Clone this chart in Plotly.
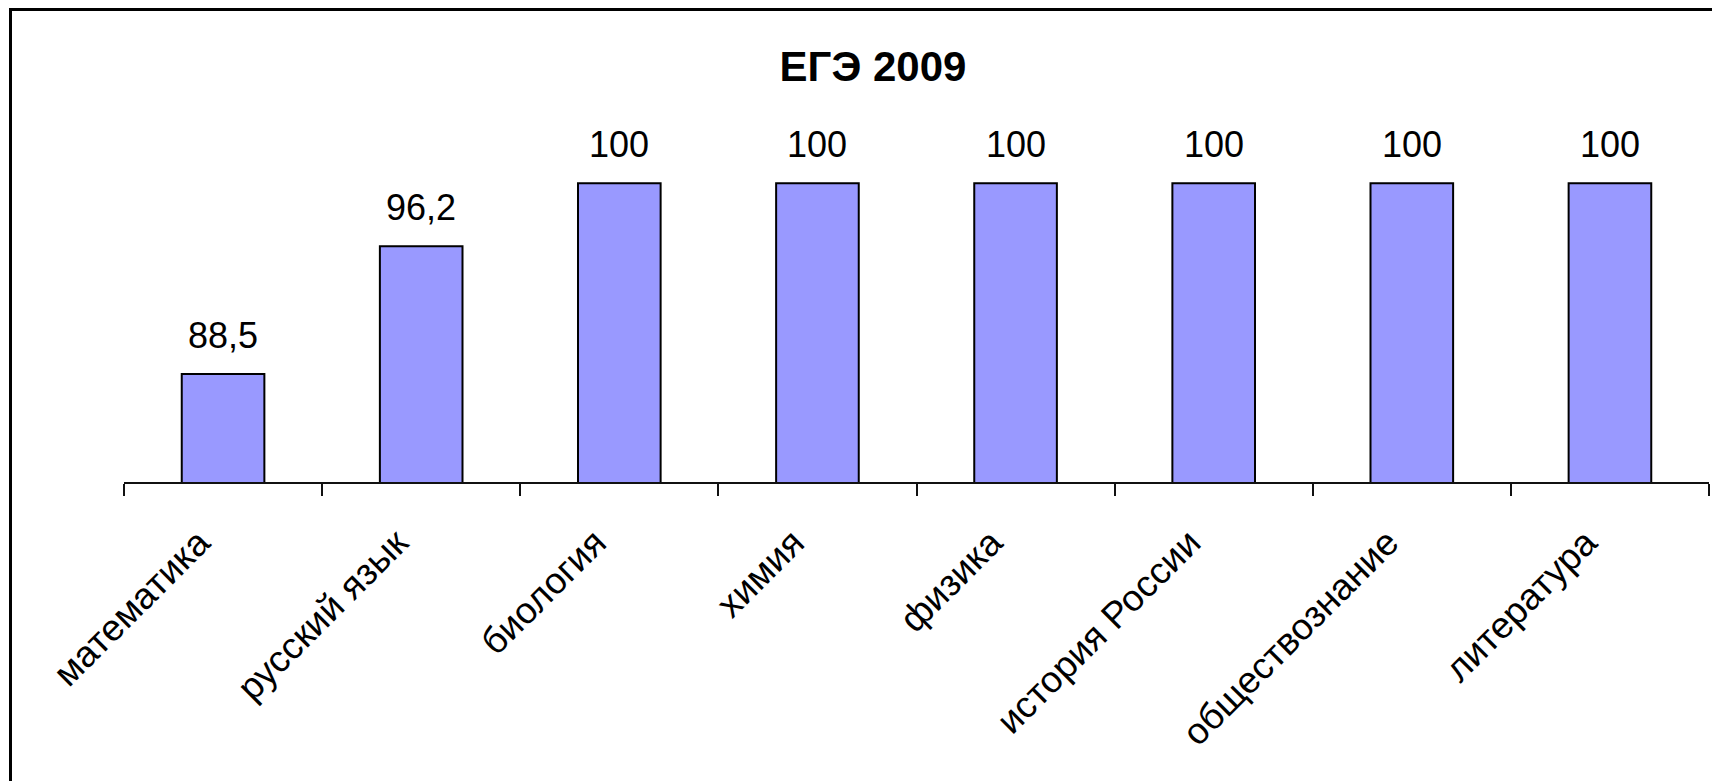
import plotly.graph_objects as go

categories = ["математика", "русский язык", "биология", "химия", "физика",
              "история России", "обществознание", "литература"]
scores = [88.5, 96.2, 100, 100, 100, 100, 100, 100]
title_text = "ЕГЭ 2009"

FONT = "Arial, 'Liberation Sans', sans-serif"
# the page places the figure 8px in from the top-left corner
W, H = 1712, 773
L, R, T, B = 116, 11, 142, 299
Y_MIN, Y_MAX = 82, 102

def fmt(v):
    s = f"{v:g}"
    return s.replace(".", ",")

fig = go.Figure()
fig.add_trace(go.Bar(
    x=categories, y=scores,
    marker=dict(color="#9999FF", line=dict(color="#000000", width=2)),
    hoverinfo="skip",
))

for c, v in zip(categories, scores):
    fig.add_annotation(x=c, y=v, xref="x", yref="y", text=fmt(v),
                       showarrow=False, yanchor="bottom", yshift=16,
                       font=dict(family=FONT, size=36, color="#000000"))

def px_x(px):
    return (px - L) / (W - L - R)

def px_y(py):
    return (H - B - py) / (H - T - B)

# chart frame (left and top edges visible)
fig.add_shape(type="line", xref="paper", yref="paper",
              x0=px_x(2.5), x1=px_x(2.5), y0=px_y(1), y1=px_y(H + 10),
              line=dict(color="#000000", width=3))
fig.add_shape(type="line", xref="paper", yref="paper",
              x0=px_x(1), x1=px_x(W + 10), y0=px_y(1.5), y1=px_y(1.5),
              line=dict(color="#000000", width=3))

fig.update_layout(
    width=W, height=H,
    margin=dict(l=L, r=R, t=T, b=B, autoexpand=False),
    paper_bgcolor="white", plot_bgcolor="white",
    bargap=0.583,
    showlegend=False,
    title=dict(text=f"<b>{title_text}</b>", xref="container", yref="container",
               x=865 / W, y=1 - 58 / H, xanchor="center", yanchor="middle",
               font=dict(family=FONT, size=42, color="#000000")),
    xaxis=dict(type="category", showline=True, linecolor="#111111", linewidth=2,
               ticks="outside", tickson="boundaries", ticklen=12, tickwidth=2,
               tickcolor="#111111", tickangle=-45, showgrid=False, zeroline=False,
               ticklabelstandoff=22, ticklabelshift=-24,
               tickfont=dict(family=FONT, size=37, color="#000000")),
    yaxis=dict(range=[Y_MIN, Y_MAX], visible=False, showgrid=False, zeroline=False),
)

fig.write_html("out.html")
